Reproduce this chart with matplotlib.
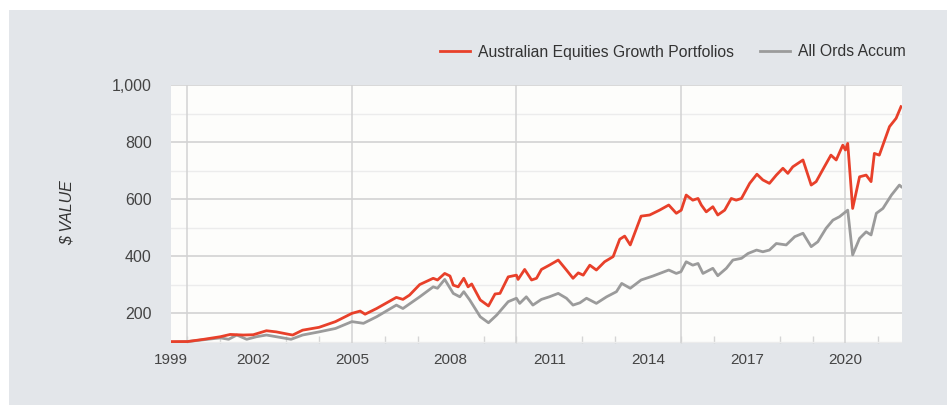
import matplotlib
matplotlib.use('Agg')
import matplotlib.pyplot as plt
from matplotlib.patches import Rectangle
from matplotlib.ticker import MultipleLocator, FuncFormatter

plt.rcParams['font.family'] = ['Liberation Sans', 'DejaVu Sans']

# growth of $100 (decimal years)
growth_years = [1999.5, 2000.0, 2000.5, 2001.0, 2001.3, 2001.7, 2002.0, 2002.4, 2002.7,
                2003.1, 2003.2, 2003.5, 2004.0, 2004.5, 2005.0, 2005.25, 2005.4, 2005.75,
                2006.35, 2006.55, 2006.75, 2007.06, 2007.47, 2007.6, 2007.82, 2007.98,
                2008.08, 2008.23, 2008.4, 2008.53, 2008.64, 2008.9, 2009.15, 2009.35,
                2009.5, 2009.75, 2010.0, 2010.05, 2010.25, 2010.46, 2010.61, 2010.76,
                2011.0, 2011.27, 2011.52, 2011.72, 2011.88, 2012.03, 2012.23, 2012.43,
                2012.68, 2012.94, 2013.14, 2013.29, 2013.46, 2013.79, 2014.05, 2014.35,
                2014.63, 2014.86, 2015.01, 2015.16, 2015.36, 2015.52, 2015.62, 2015.77,
                2015.97, 2016.12, 2016.33, 2016.53, 2016.68, 2016.84, 2017.09, 2017.31,
                2017.49, 2017.69, 2017.9, 2018.1, 2018.25, 2018.4, 2018.71, 2018.96,
                2019.11, 2019.36, 2019.56, 2019.72, 2019.92, 2020.0, 2020.07, 2020.22,
                2020.43, 2020.63, 2020.78, 2020.88, 2021.03, 2021.34, 2021.54, 2021.69]
growth_values = [100, 100, 108, 117, 125, 123, 124, 138, 134,
                 125, 123, 140, 150, 170, 199, 207, 196, 216,
                 255, 248, 263, 300, 322, 316, 339, 330,
                 298, 292, 322, 292, 302, 246, 225, 267,
                 269, 327, 333, 318, 353, 316, 322, 353,
                 368, 386, 351, 322, 341, 333, 368, 351,
                 380, 398, 459, 470, 439, 540, 544, 561,
                 579, 550, 561, 614, 596, 602, 579, 555,
                 573, 544, 561, 602, 596, 602, 655, 687,
                 667, 655, 684, 708, 690, 713, 737, 649,
                 661, 713, 754, 737, 789, 772, 795, 567,
                 678, 684, 661, 760, 754, 854, 883, 924]

index_years = [1999.5, 2000.0, 2001.0, 2001.25, 2001.5, 2001.8, 2002.1, 2002.4, 2002.7,
               2003.15, 2003.5, 2004.0, 2004.5, 2005.0, 2005.35, 2005.75, 2006.35,
               2006.55, 2007.06, 2007.47, 2007.6, 2007.82, 2008.08, 2008.28, 2008.4,
               2008.58, 2008.9, 2009.15, 2009.4, 2009.75, 2010.0, 2010.1, 2010.3,
               2010.5, 2010.76, 2011.0, 2011.27, 2011.52, 2011.72, 2011.93, 2012.13,
               2012.43, 2012.74, 2013.04, 2013.2, 2013.46, 2013.79, 2014.15, 2014.63,
               2014.86, 2015.0, 2015.16, 2015.36, 2015.52, 2015.67, 2015.97, 2016.12,
               2016.38, 2016.58, 2016.84, 2017.04, 2017.3, 2017.49, 2017.69, 2017.9,
               2018.2, 2018.46, 2018.71, 2018.96, 2019.16, 2019.41, 2019.62, 2019.82,
               2020.07, 2020.22, 2020.43, 2020.63, 2020.78, 2020.94, 2021.14, 2021.4,
               2021.64, 2021.7]
index_values = [97, 100, 113, 108, 123, 108, 117, 123, 117,
                108, 123, 134, 146, 170, 164, 187, 228,
                216, 257, 292, 287, 318, 269, 257, 275,
                246, 187, 166, 193, 240, 252, 234, 257,
                228, 248, 257, 269, 252, 228, 236, 252,
                234, 257, 275, 304, 287, 316, 330, 351,
                339, 345, 380, 368, 374, 339, 357, 331,
                357, 386, 392, 409, 421, 415, 421, 444,
                439, 468, 480, 433, 450, 497, 526, 538,
                561, 404, 462, 485, 474, 550, 567, 614,
                649, 643]

label_years = [1999.5, 2002, 2005, 2008, 2011, 2014, 2017, 2020]
label_text = ['1999', '2002', '2005', '2008', '2011', '2014', '2017', '2020']
grid_years = [2000, 2005, 2010, 2015, 2020]
year_ticks = list(range(2000, 2022))

W, H = 947, 405
fig = plt.figure(figsize=(W / 100, H / 100), dpi=100, facecolor='white')
fig.patches.append(Rectangle((9 / W, 0), 1, (H - 10) / H, transform=fig.transFigure,
                             facecolor='#e3e6ea', edgecolor='none', zorder=-10))

ax = fig.add_axes([171 / W, 62 / H, (902 - 171) / W, (343 - 85) / H])
ax.set_facecolor('#fdfdfb')
for s in ax.spines.values():
    s.set_visible(False)

ax.set_xlim(1999.5, 2021.72)
ax.set_ylim(95, 1000)

# grid
ax.yaxis.set_major_locator(MultipleLocator(200))
ax.yaxis.set_minor_locator(MultipleLocator(100))
ax.grid(axis='y', which='major', color='#cfcfcf', lw=1.1)
ax.grid(axis='y', which='minor', color='#ececec', lw=1.0)
for g in grid_years:
    ax.axvline(g, color='#d3d3d3', lw=1.1, zorder=1)
ax.set_axisbelow(True)

line_idx, = ax.plot(index_years, index_values, color='#9b9b9b', lw=2.0, zorder=3)
line_gr, = ax.plot(growth_years, growth_values, color='#e8402a', lw=2.0, zorder=4)

ax.set_xticks(label_years)
ax.set_xticklabels(label_text)
ax.set_xticks(year_ticks, minor=True)
ax.tick_params(axis='x', which='major', length=0, pad=7, labelsize=11, labelcolor='#444444')
ax.tick_params(axis='x', which='minor', direction='in', length=5, color='#d5d5d5', width=1)
ax.tick_params(axis='y', which='both', length=0, pad=14, labelsize=11.5, labelcolor='#444444')
ax.yaxis.set_major_formatter(FuncFormatter(lambda v, p: f'{int(v):,}'))

fig.text(67 / W, 1 - 213 / H, '$ VALUE', rotation=90, style='italic', fontsize=11.5,
         color='#333333', ha='center', va='center')

fig.legend([line_gr, line_idx], ['Australian Equities Growth Portfolios', 'All Ords Accum'],
           loc='center right', bbox_to_anchor=(920 / W, 1 - 52 / H), ncol=2,
           frameon=False, fontsize=11.3, handlelength=1.9, handletextpad=0.5,
           columnspacing=1.7, labelcolor='#333333')

fig.savefig('out.png', dpi=100, facecolor=fig.get_facecolor())
